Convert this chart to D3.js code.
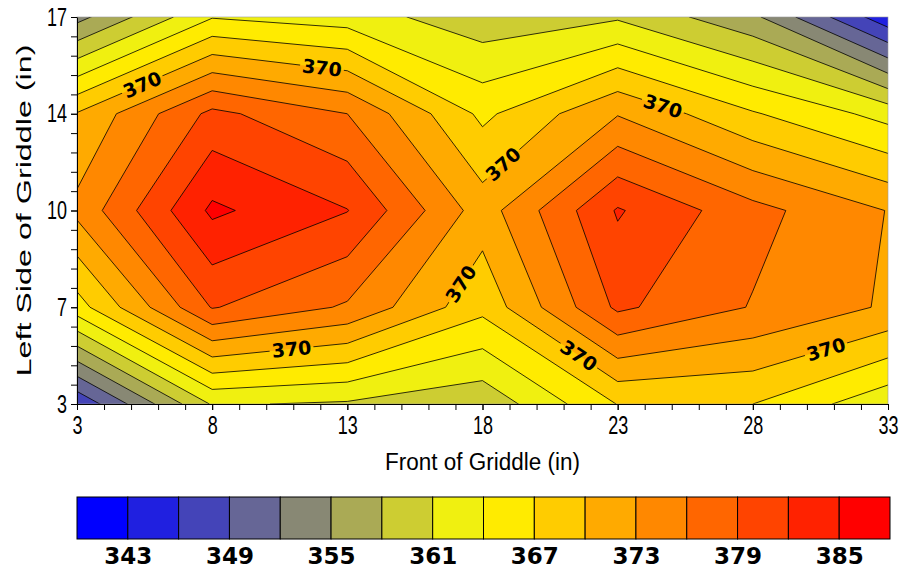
<!DOCTYPE html>
<html>
<head>
<meta charset="utf-8">
<script src="https://cdn.jsdelivr.net/npm/d3@7"></script>
<style>
  body { margin: 0; background: #fff; }
  svg { display: block; font-family: "Liberation Sans", Arial, sans-serif; }
</style>
</head>
<body>
<svg id="chart" width="916" height="575"></svg>
<script>
// measurement grid (inches)
const frontPositions = [3, 8, 13, 18, 23, 28, 33];
const sidePositions = [17, 13.5, 10, 6.5, 3]; // top row first

// griddle surface temperatures, one row per side position
const row17 = [354.0, 363.8, 362.5, 359.1, 360.6, 355.7, 344.0];
const row13 = [370.2, 379.8, 376.0, 366.3, 372.8, 367.3, 362.9];
const row10 = [373.8, 385.6, 382.1, 371.5, 382.3, 377.0, 372.9];
const row6 = [365.7, 379.2, 375.6, 367.9, 379.6, 375.8, 372.6];
const row3 = [346.5, 361.3, 360.6, 358.8, 367.1, 367.0, 361.9];
const temps = [row17, row13, row10, row6, row3];

// contour levels and band colours (340..388 in steps of 3)
const levels = d3.range(343, 386, 3);
const bandColors = [
    '#0000ff', '#2020e0', '#4444b8', '#666696', '#888874', '#aaaa55', '#cdcd32', '#f0f010',
    '#ffeb00', '#ffcc00', '#ffaa00', '#ff8800', '#ff6600', '#ff4400', '#ff2200', '#ff0000'
];
const legendTicks = [343, 349, 355, 361, 367, 373, 379, 385];

const xTickValues = [3, 8, 13, 18, 23, 28, 33];
const yTickValues = [3, 6.5, 10, 13.5, 17];
const yTickLabels = ['3', '7', '10', '14', '17'];

const labelLevel = 370;
// rough spots (inches) where the 370 labels sit
const labelAnchors = [[5.44, 14.5], [12.06, 15.15], [24.68, 13.8], [18.65, 11.8],
                      [17.28, 7.3], [21.53, 4.7], [10.95, 4.85], [30.67, 5.1]];

const nx = frontPositions.length;
const ny = sidePositions.length;

const svg = d3.select('#chart');
const x = d3.scaleLinear().domain([3, 33]).range([77, 888]);
const y = d3.scaleLinear().domain([3, 17]).range([404, 17]);
const color = d3.scaleThreshold().domain(levels).range(bandColors);

// contour grid units -> pixels (grid point i sits at i + 0.5)
const gx = d3.scaleLinear().domain([0.5, nx - 0.5]).range([x(frontPositions[0]), x(frontPositions[nx - 1])]);
const gy = d3.scaleLinear().domain([0.5, ny - 0.5]).range([y(sidePositions[0]), y(sidePositions[ny - 1])]);
const path = d3.geoPath(d3.geoTransform({
    point(px, py) { this.stream.point(gx(px), gy(py)); }
}));

const bands = d3.contours().size([nx, ny]).thresholds(levels)(temps.flat());

const defs = svg.append('defs');
defs.append('clipPath').attr('id', 'plot-clip')
    .append('rect')
    .attr('x', x(3)).attr('y', y(17))
    .attr('width', x(33) - x(3)).attr('height', y(3) - y(17));

// find label spots on the 370 line
const labelBand = bands.find(b => b.value === labelLevel);
const inside = p => p[0] >= x(3) - 0.5 && p[0] <= x(33) + 0.5 && p[1] >= y(17) - 0.5 && p[1] <= y(3) + 0.5;
const segs = [];
labelBand.coordinates.forEach(poly => poly.forEach(ring => {
    for (let i = 1; i < ring.length; i++) {
        const a = [gx(ring[i - 1][0]), gy(ring[i - 1][1])];
        const b = [gx(ring[i][0]), gy(ring[i][1])];
        if (inside(a) && inside(b)) segs.push([a, b]);
    }
}));
const labels = labelAnchors.map(([ax, ay]) => {
    const p = [x(ax), y(ay)];
    let best = null;
    segs.forEach(([a, b]) => {
        const dx = b[0] - a[0], dy = b[1] - a[1];
        const len2 = dx * dx + dy * dy || 1;
        let t = ((p[0] - a[0]) * dx + (p[1] - a[1]) * dy) / len2;
        t = Math.max(0, Math.min(1, t));
        const q = [a[0] + t * dx, a[1] + t * dy];
        const d = Math.hypot(q[0] - p[0], q[1] - p[1]);
        if (!best || d < best.d) best = { d, q, dx, dy };
    });
    let angle = Math.atan2(best.dy, best.dx) * 180 / Math.PI;
    if (angle > 90) angle -= 180;
    if (angle < -90) angle += 180;
    return { x: best.q[0], y: best.q[1], angle };
});

const mask = defs.append('mask').attr('id', 'label-gaps')
    .attr('maskUnits', 'userSpaceOnUse')
    .attr('x', 0).attr('y', 0).attr('width', 916).attr('height', 575);
mask.append('rect').attr('width', 916).attr('height', 575).attr('fill', '#fff');
mask.selectAll('rect.gap').data(labels).join('rect')
    .attr('class', 'gap')
    .attr('x', -22).attr('y', -10).attr('width', 44).attr('height', 20)
    .attr('transform', d => `translate(${d.x},${d.y}) rotate(${d.angle})`)
    .attr('fill', '#000');

// filled bands
const plot = svg.append('g').attr('clip-path', 'url(#plot-clip)');
plot.append('rect')
    .attr('x', x(3)).attr('y', y(17))
    .attr('width', x(33) - x(3)).attr('height', y(3) - y(17))
    .attr('fill', color(levels[0] - 1));
plot.append('g').selectAll('path').data(bands).join('path')
    .attr('d', path)
    .attr('fill', d => color(d.value));

// contour lines
plot.append('g').attr('mask', 'url(#label-gaps)')
    .selectAll('path').data(bands).join('path')
    .attr('d', path)
    .attr('fill', 'none')
    .attr('stroke', '#000')
    .attr('stroke-width', 0.8);

svg.append('g').selectAll('text').data(labels).join('text')
    .attr('transform', d => `translate(${d.x},${d.y}) rotate(${d.angle})`)
    .attr('text-anchor', 'middle')
    .attr('dy', '0.36em')
    .style('font-family', '"DejaVu Sans", sans-serif')
    .style('font-weight', 'bold')
    .style('font-size', '19px')
    .text(labelLevel);

// frame
svg.append('rect')
    .attr('x', x(3)).attr('y', y(17))
    .attr('width', x(33) - x(3)).attr('height', y(3) - y(17))
    .attr('fill', 'none').attr('stroke', '#999').attr('stroke-width', 0.6);

// axes
svg.append('g')
    .attr('transform', `translate(0,${y(3)})`)
    .call(d3.axisBottom(x).tickValues(d3.range(3, 34, 1)).tickSize(6).tickSizeOuter(0).tickFormat(''))
    .call(g => g.select('.domain').remove());
const xAxis = svg.append('g')
    .attr('transform', `translate(0,${y(3)})`)
    .call(d3.axisBottom(x).tickValues(xTickValues).tickSize(6).tickSizeOuter(0).tickFormat(d3.format('d')));
xAxis.selectAll('text')
    .attr('y', 0).attr('dy', '0.71em')
    .attr('transform', 'translate(0,12) scale(0.9,1.25)')
    .style('font-size', '20px')
    .attr('fill', '#000');

svg.append('g')
    .attr('transform', `translate(${x(3)},0)`)
    .call(d3.axisLeft(y).tickValues(d3.range(0, 21).map(i => 3 + i * 0.7)).tickSize(6).tickSizeOuter(0).tickFormat(''))
    .call(g => g.select('.domain').remove());
const yAxis = svg.append('g')
    .attr('transform', `translate(${x(3)},0)`)
    .call(d3.axisLeft(y).tickValues(yTickValues).tickSize(6).tickSizeOuter(0)
        .tickFormat((d, i) => yTickLabels[i]));
yAxis.selectAll('text')
    .attr('x', 0)
    .attr('transform', 'translate(-10,0) scale(0.9,1.25)')
    .style('font-size', '20px')
    .attr('fill', '#000');

svg.append('text')
    .attr('transform', `translate(${(x(3) + x(33)) / 2},470) scale(1,1.25)`)
    .attr('text-anchor', 'middle')
    .style('font-size', '19px')
    .attr('textLength', 195).attr('lengthAdjust', 'spacingAndGlyphs')
    .text('Front of Griddle (in)');
svg.append('text')
    .attr('transform', `translate(31,${(y(3) + y(17)) / 2}) rotate(-90)`)
    .attr('text-anchor', 'middle')
    .style('font-size', '21px')
    .attr('textLength', 332).attr('lengthAdjust', 'spacingAndGlyphs')
    .text('Left Side of Griddle (in)');

// colour legend
const legendX = d3.scaleLinear().domain([340, 388]).range([77, 890]);
const legend = svg.append('g');
legend.selectAll('rect').data(bandColors).join('rect')
    .attr('x', (d, i) => legendX(340 + i * 3))
    .attr('y', 497)
    .attr('width', (d, i) => legendX(343 + i * 3) - legendX(340 + i * 3))
    .attr('height', 42)
    .attr('fill', d => d)
    .attr('stroke', '#000')
    .attr('stroke-width', 1);
const legendAxis = svg.append('g')
    .attr('transform', 'translate(0,539)')
    .call(d3.axisBottom(legendX).tickValues(legendTicks).tickSize(0).tickPadding(9));
legendAxis.select('.domain').remove();
legendAxis.selectAll('text')
    .style('font-family', '"DejaVu Sans", sans-serif')
    .style('font-weight', 'bold')
    .style('font-size', '23px')
    .attr('fill', '#000');
</script>
</body>
</html>
